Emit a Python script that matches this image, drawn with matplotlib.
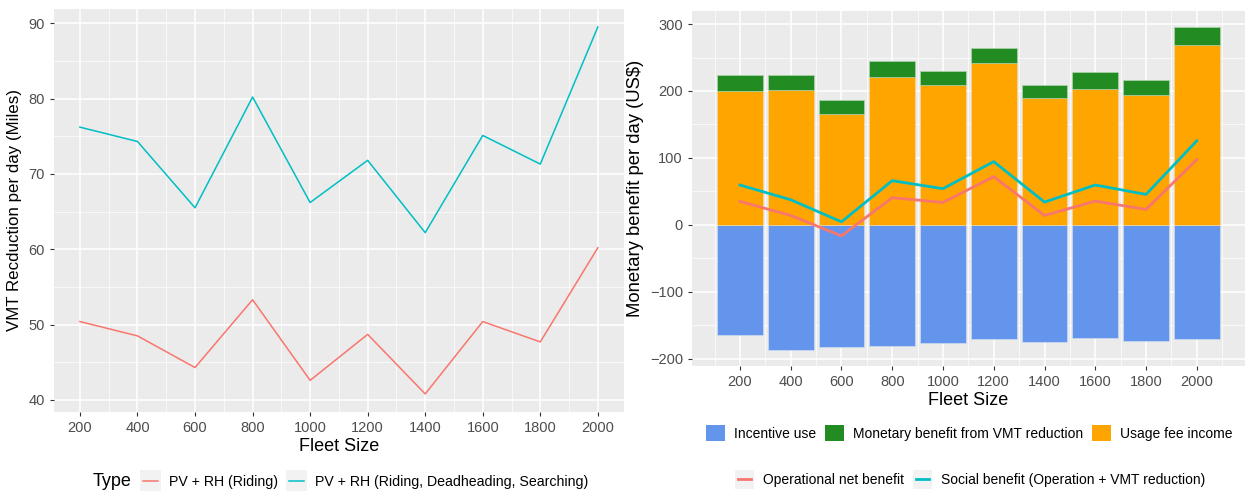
import numpy as np
import matplotlib
matplotlib.use("Agg")
import matplotlib.pyplot as plt
from matplotlib.patches import Rectangle, Patch
from matplotlib.lines import Line2D
from matplotlib.legend_handler import HandlerBase
from matplotlib.ticker import MultipleLocator

plt.rcParams['font.family'] = ['Liberation Sans', 'DejaVu Sans']

# data
fleet = [200, 400, 600, 800, 1000, 1200, 1400, 1600, 1800, 2000]
vmt_riding = [50.4, 48.5, 44.3, 53.3, 42.6, 48.7, 40.8, 50.4, 47.7, 60.2]
vmt_all = [76.2, 74.3, 65.5, 80.2, 66.2, 71.8, 62.2, 75.1, 71.3, 89.5]

incentive = [-165, -187, -182, -180.5, -176.5, -170, -175, -168.5, -173, -170]
usage_fee = [200, 201, 165, 220.5, 209, 242, 189, 203.5, 194.5, 268.5]
vmt_benefit = [24.5, 23.5, 21, 25, 20.5, 22, 19.5, 25, 22, 27]
op_net = [35, 14, -16.5, 40.5, 33.5, 72, 14, 35.5, 23, 97.5]
social = [59.5, 37.5, 4.5, 66, 54, 94.5, 34, 59.5, 45.5, 125.5]

RED = '#F8766D'
TEAL = '#00BFC4'
KEYBG = '#F2F2F2'
TXT = '#4D4D4D'


class LineKey(HandlerBase):
    # ggplot style key: grey box behind a short line
    def create_artists(self, legend, orig_handle, xdescent, ydescent, width, height, fontsize, trans):
        pad = (width - height) / 2
        bg = Rectangle((-xdescent, -ydescent - pad), width, width, fc=KEYBG, ec='none', transform=trans)
        y = -ydescent + height / 2
        ln = Line2D([-xdescent + width * 0.15, -xdescent + width * 0.85], [y, y],
                    color=orig_handle.get_color(), lw=orig_handle.get_linewidth(), transform=trans)
        return [bg, ln]


def gg_style(ax):
    ax.set_facecolor('#EBEBEB')
    for s in ax.spines.values():
        s.set_visible(False)
    ax.grid(which='major', color='white', lw=1.1)
    ax.grid(which='minor', color='white', lw=0.5)
    ax.set_axisbelow(True)
    ax.tick_params(which='major', colors='#333333', labelcolor=TXT, labelsize=10.5, length=3, width=0.8)
    ax.tick_params(which='minor', length=0)


fig = plt.figure(figsize=(12.45, 4.92), dpi=100)

# left panel
ax1 = fig.add_axes([0.0434, 0.1626, 0.4576, 0.8194])
gg_style(ax1)
ax1.plot(fleet, vmt_riding, color=RED, lw=1.1)
ax1.plot(fleet, vmt_all, color=TEAL, lw=1.1)
ax1.set_xlim(110, 2090)
ax1.set_ylim(38.4, 91.9)
ax1.set_xticks(fleet)
ax1.xaxis.set_minor_locator(MultipleLocator(100))
ax1.yaxis.set_major_locator(MultipleLocator(10))
ax1.yaxis.set_minor_locator(MultipleLocator(5))
ax1.set_xlabel('Fleet Size', fontsize=13, labelpad=2)
ax1.set_ylabel('VMT Recduction per day (Miles)', fontsize=12.2, labelpad=5)

# right panel
ax2 = fig.add_axes([0.5558, 0.256, 0.444, 0.7216])
gg_style(ax2)
ax2.bar(fleet, incentive, width=180, color='#6495ED', edgecolor='#D9E2F2', lw=0.4)
ax2.bar(fleet, usage_fee, width=180, color='#FFA500', edgecolor='#F2DDB0', lw=0.4)
ax2.bar(fleet, vmt_benefit, bottom=usage_fee, width=180, color='#228B22', edgecolor='#B8D9B8', lw=0.4)
ax2.plot(fleet, op_net, color=RED, lw=2.0)
ax2.plot(fleet, social, color=TEAL, lw=2.0)
ax2.set_xlim(11, 2189)
ax2.set_ylim(-211, 319.5)
ax2.set_xticks(fleet)
ax2.xaxis.set_minor_locator(MultipleLocator(100))
ax2.yaxis.set_major_locator(MultipleLocator(100))
ax2.yaxis.set_minor_locator(MultipleLocator(50))
ax2.set_xlabel('Fleet Size', fontsize=13, labelpad=2)
ax2.set_ylabel('Monetary benefit per day (US$)', fontsize=13.3, labelpad=4)

# left legend
h1 = [Line2D([], [], color=RED, lw=1.1), Line2D([], [], color=TEAL, lw=1.1)]
fig.text(0.0747, 0.021, 'Type', fontsize=13, color='black', va='center', ha='left')
fig.legend(h1, ['PV + RH (Riding)', 'PV + RH (Riding, Deadheading, Searching)'],
           loc='center left', bbox_to_anchor=(0.1124, 0.021), ncol=2, frameon=False,
           fontsize=10.2, handlelength=1.48, handletextpad=0.56, columnspacing=0.56,
           borderpad=0, borderaxespad=0, handler_map={Line2D: LineKey()})

# right legends
h2 = [Patch(fc='#6495ED'), Patch(fc='#228B22'), Patch(fc='#FFA500')]
fig.legend(h2, ['Incentive use', 'Monetary benefit from VMT reduction', 'Usage fee income'],
           loc='center left', bbox_to_anchor=(0.567, 0.12), ncol=3, frameon=False,
           fontsize=10, handlelength=1.37, handleheight=1.37, handletextpad=0.65,
           columnspacing=0.65, borderpad=0, borderaxespad=0)
h3 = [Line2D([], [], color=RED, lw=2.0), Line2D([], [], color=TEAL, lw=2.0)]
fig.legend(h3, ['Operational net benefit', 'Social benefit (Operation + VMT reduction)'],
           loc='center left', bbox_to_anchor=(0.5904, 0.0244), ncol=2, frameon=False,
           fontsize=10, handlelength=1.37, handletextpad=0.65, columnspacing=0.65,
           borderpad=0, borderaxespad=0, handler_map={Line2D: LineKey()})

fig.savefig('out.png', dpi=100)
